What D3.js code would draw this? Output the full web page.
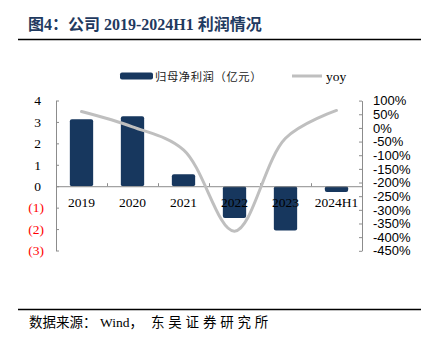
<!DOCTYPE html>
<html>
<head>
<meta charset="utf-8">
<script src="https://cdn.jsdelivr.net/npm/d3@7"></script>
<style>
  body { margin: 0; background: #fff; }
  svg { display: block; }
</style>
</head>
<body>
<div id="chart"></div>
<script>
// profit by period (亿元) and year-on-year change (%)
const categories = ["2019", "2020", "2021", "2022", "2023", "2024H1"];
const netProfit = [3.13, 3.27, 0.56, -1.48, -2.07, -0.27];
const yoy = [60, 4, -80, -378, -38, 64];
const leftTicks = [-3, -2, -1, 0, 1, 2, 3, 4];
const rightTicks = [-450, -400, -350, -300, -250, -200, -150, -100, -50, 0, 50, 100];

const barColor = "#17375e";
const lineColor = "#bfbfbf";
const axisColor = "#8c8c8c";
const serif = "'Liberation Serif', 'Times New Roman', 'Noto Sans CJK SC', serif";
const sans = "'Liberation Sans', Arial, sans-serif";

const svg = d3.select("#chart").append("svg")
    .attr("width", 431)
    .attr("height", 344);

// header
svg.append("text")
    .attr("x", 28).attr("y", 30)
    .attr("font-family", serif)
    .attr("font-size", 16)
    .attr("font-weight", "bold")
    .attr("fill", "#1f3a60")
    .text("图4：公司 2019-2024H1 利润情况");

svg.append("line")
    .attr("x1", 18).attr("x2", 421)
    .attr("y1", 39.5).attr("y2", 39.5)
    .attr("stroke", "#000").attr("stroke-width", 1.5);

// scales
const x = d3.scaleBand()
    .domain(categories)
    .range([56, 362])
    .paddingInner(0.543)
    .paddingOuter(0.2715);

const xEdge = d3.scaleLinear().domain([0, categories.length]).range([56, 362]);

const yL = d3.scaleLinear().domain([-3, 4]).range([250.5, 100.5]);
const yR = d3.scaleLinear().domain([-450, 100]).range([250.8, 100.6]);

// left axis
const leftAxis = svg.append("g")
    .attr("transform", "translate(56,0)")
    .call(d3.axisLeft(yL)
        .tickValues(leftTicks)
        .tickSizeInner(-3)
        .tickSizeOuter(0)
        .tickPadding(12)
        .tickFormat(d => d < 0 ? "(" + (-d) + ")" : String(d)));

leftAxis.selectAll("text")
    .attr("font-family", serif)
    .attr("font-size", 13.5)
    .attr("fill", d => d < 0 ? "#ff0000" : "#000")
    .attr("x", d => d < 0 ? -12 : -15);

// right axis
const rightAxis = svg.append("g")
    .attr("transform", "translate(362,0)")
    .call(d3.axisRight(yR)
        .tickValues(rightTicks)
        .tickSizeInner(-3)
        .tickSizeOuter(0)
        .tickPadding(11)
        .tickFormat(d => d + "%"));

rightAxis.selectAll("text")
    .attr("font-family", sans)
    .attr("font-size", 13)
    .attr("fill", "#000");

[leftAxis, rightAxis].forEach(g => {
    g.select(".domain").attr("stroke", axisColor);
    g.selectAll(".tick line").attr("stroke", axisColor);
});

// bars
svg.append("g")
    .selectAll("rect")
    .data(netProfit)
    .enter().append("rect")
    .attr("x", (d, i) => x(categories[i]))
    .attr("width", x.bandwidth())
    .attr("y", d => Math.min(yL(d), yL(0)))
    .attr("height", d => Math.abs(yL(d) - yL(0)))
    .attr("rx", 2)
    .attr("fill", barColor);

// category axis on the zero line
const xAxis = svg.append("g")
    .attr("transform", `translate(0,${yL(0)})`)
    .call(d3.axisBottom(xEdge)
        .tickValues(d3.range(0, categories.length + 1))
        .tickSizeInner(-3)
        .tickSizeOuter(0)
        .tickFormat(""));
xAxis.select(".domain").attr("stroke", axisColor);
xAxis.selectAll(".tick line").attr("stroke", axisColor);

svg.append("g")
    .selectAll("text")
    .data(categories)
    .enter().append("text")
    .attr("x", d => x(d) + x.bandwidth() / 2)
    .attr("y", 206.5)
    .attr("text-anchor", "middle")
    .attr("font-family", serif)
    .attr("font-size", 13.5)
    .attr("fill", "#000")
    .text(d => d);

// yoy line
const line = d3.line()
    .x((d, i) => x(categories[i]) + x.bandwidth() / 2)
    .y(d => yR(d))
    .curve(d3.curveCatmullRom.alpha(0.5));

svg.append("path")
    .datum(yoy)
    .attr("d", line)
    .attr("fill", "none")
    .attr("stroke", lineColor)
    .attr("stroke-width", 3)
    .attr("stroke-linecap", "round");

// legend
const legend = svg.append("g");
legend.append("rect")
    .attr("x", 120).attr("y", 72.5)
    .attr("width", 33).attr("height", 7)
    .attr("rx", 2)
    .attr("fill", barColor);
legend.append("text")
    .attr("x", 155).attr("y", 80.5)
    .attr("font-family", "'Noto Sans CJK SC', sans-serif")
    .attr("font-size", 11.3)
    .attr("letter-spacing", 0.6)
    .attr("fill", "#222")
    .text("归母净利润（亿元）");
legend.append("line")
    .attr("x1", 292).attr("x2", 322)
    .attr("y1", 76).attr("y2", 76)
    .attr("stroke", lineColor).attr("stroke-width", 3);
legend.append("text")
    .attr("x", 326).attr("y", 80.5)
    .attr("font-family", serif)
    .attr("font-size", 13.5)
    .attr("fill", "#000")
    .text("yoy");

// footer
svg.append("line")
    .attr("x1", 18).attr("x2", 421)
    .attr("y1", 309.5).attr("y2", 309.5)
    .attr("stroke", "#000").attr("stroke-width", 1.5);

const source = svg.append("text")
    .attr("y", 327)
    .attr("font-family", serif)
    .attr("font-size", 13.5)
    .attr("fill", "#000");
source.append("tspan").attr("x", 29).text("数据来源：");
source.append("tspan").attr("x", 100).text("Wind，");
source.append("tspan").attr("x", 151).attr("letter-spacing", 3.8).text("东吴证券研究所");
</script>
</body>
</html>
